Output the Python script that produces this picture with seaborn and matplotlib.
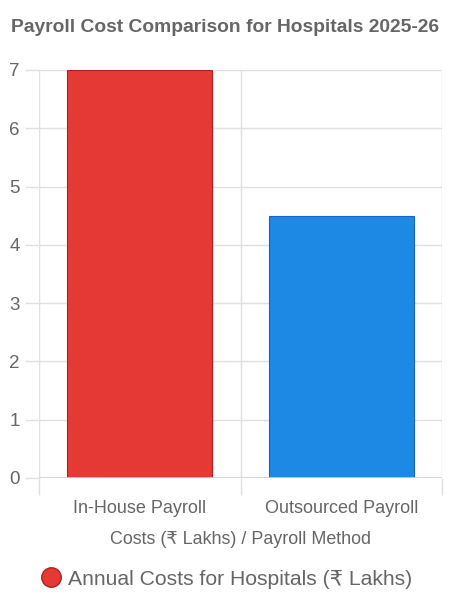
import matplotlib
matplotlib.use("Agg")
import matplotlib.pyplot as plt
import seaborn as sns
import pandas as pd
from matplotlib.lines import Line2D
from matplotlib.ticker import FixedLocator

categories = ["In-House Payroll", "Outsourced Payroll"]
values = [7, 4.5]
colors = ["#E53935", "#1E88E5"]
edges = ["#B71C1C", "#1565C0"]
title = "Payroll Cost Comparison for Hospitals 2025-26"
xlabel = "Costs (₹ Lakhs) / Payroll Method"
legend_label = "Annual Costs for Hospitals (₹ Lakhs)"

sns.set_theme(style="white")
plt.rcParams['font.family'] = ['Liberation Sans', 'DejaVu Sans']

df = pd.DataFrame({"method": categories, "value": values})

fig = plt.figure(figsize=(4.5, 6.13), dpi=100)
ax = fig.add_axes([39/450, 1-478/613, (442-39)/450, (478-70)/613])

sns.barplot(data=df, x="method", y="value", hue="method", palette=colors,
            width=0.72, ax=ax, legend=False, saturation=1, zorder=3)
for patch, ec in zip(ax.patches, edges):
    patch.set_edgecolor(ec)
    patch.set_linewidth(0.8)

ax.set_xlim(-0.5, 1.5)
ax.set_ylim(0, 7)
ax.set_yticks(range(0, 8))
ax.xaxis.set_minor_locator(FixedLocator([-0.5, 0.5, 1.5]))
ax.grid(True, which="minor", axis="x", color="#E0E0E0", lw=1, zorder=0)
ax.grid(True, which="major", axis="y", color="#E0E0E0", lw=1, zorder=0)
ax.grid(False, which="major", axis="x")
for s in ax.spines.values():
    s.set_visible(False)
ax.axhline(0, color="#D0D0D0", lw=1.2, zorder=4)

ax.tick_params(axis="x", which="major", length=0, pad=16, labelsize=13, labelcolor="#666666")
ax.tick_params(axis="x", which="minor", length=12, width=1, color="#E0E0E0", bottom=True)
ax.tick_params(axis="y", which="major", length=10, width=1, color="#E0E0E0", left=True,
               pad=4, labelsize=13.5, labelcolor="#666666")

ax.set_xlabel(xlabel, fontsize=12.9, color="#666666", labelpad=10)
ax.set_ylabel("")
fig.text(0.5, 1-28/613, title, ha="center", va="center", fontsize=13.9,
         fontweight="bold", color="#666666")

handle = Line2D([0], [0], marker="o", linestyle="", markersize=14,
                markerfacecolor=colors[0], markeredgecolor=edges[0], markeredgewidth=1)
fig.legend([handle], [legend_label], loc="center", bbox_to_anchor=(0.5, 1-579/613),
           frameon=False, fontsize=15.2, labelcolor="#666666", handletextpad=0.2,
           handlelength=1.2)

fig.savefig("out.png", dpi=100, facecolor="white")
